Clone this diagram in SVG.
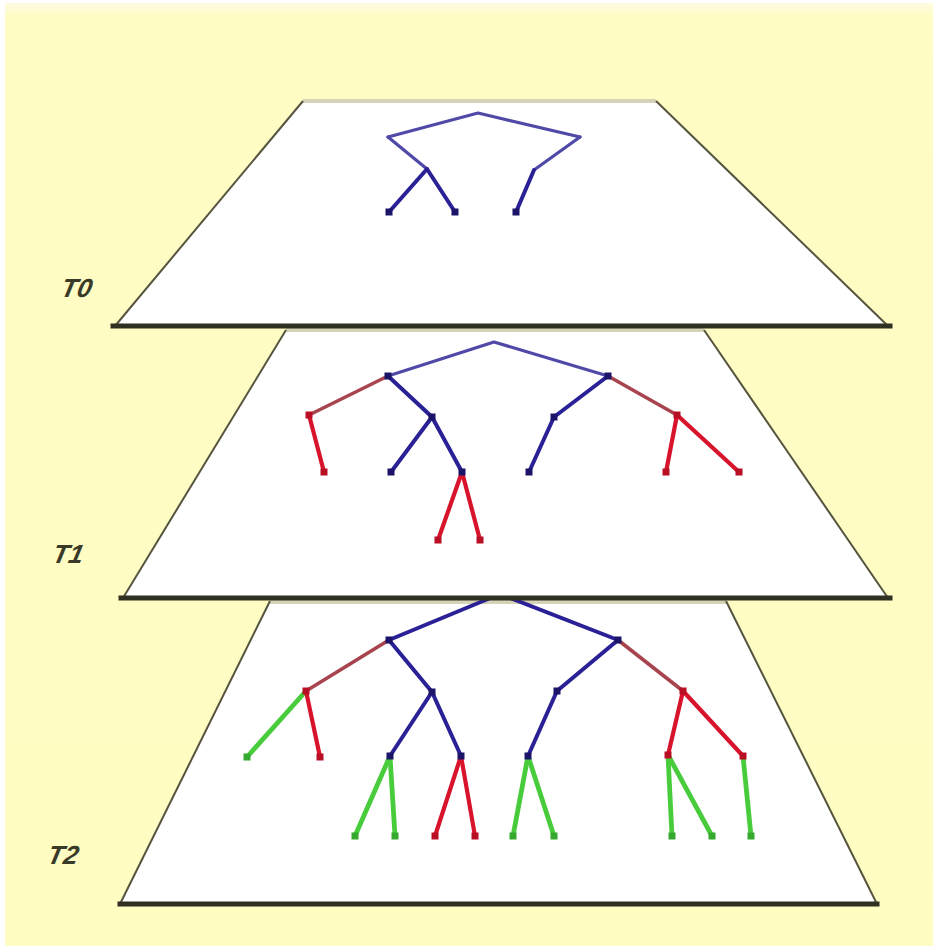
<svg xmlns="http://www.w3.org/2000/svg" xmlns:xlink="http://www.w3.org/1999/xlink" width="933" height="949" viewBox="0 0 933 949">
<defs>
<linearGradient id="bg" x1="0" y1="0" x2="0" y2="1">
<stop offset="0" stop-color="#fffbe2"/>
<stop offset="0.015" stop-color="#fffcc4"/>
<stop offset="1" stop-color="#fffdc2"/>
</linearGradient>
<rect id="dot" x="-3.5" y="-3.5" width="7" height="7"/>
<style>
.plane{fill:#ffffff;stroke:none}
.side{stroke:#55553f;stroke-width:2;fill:none}
.bottom{stroke:#2f2f22;stroke-width:5;stroke-linecap:square}
.top{stroke:#d6d2b6;stroke-width:4}
.e{fill:none;stroke-linecap:round;stroke-linejoin:round}
.bl{stroke:#2b2196;stroke-width:4}
.bt{stroke:#4f49a8;stroke-width:3.2}
.rd{stroke:#d8142c;stroke-width:4.2}
.br{stroke:#a8444e;stroke-width:3.6}
.gr{stroke:#48cc3c;stroke-width:4.8}
.nb{fill:#1c1468}
.nr{fill:#b80f24}
.ng{fill:#35a82e}
.lbl{font-family:"Liberation Sans",Arial,sans-serif;font-style:italic;font-weight:bold;font-size:26px;fill:#3a3a28}
</style>
</defs>
<rect x="0" y="0" width="933" height="949" fill="#ffffff"/>
<rect x="5" y="3" width="928" height="943" fill="url(#bg)"/>

<!-- Layer T2 (bottom) -->
<g id="plane-T2">
<polygon class="plane" points="270,601 726,601 877,904 120,904"/>
<line class="top" x1="270" y1="602" x2="726" y2="602"/>
<line class="side" x1="270" y1="601" x2="120" y2="904"/>
<line class="side" x1="726" y1="601" x2="877" y2="904"/>
<line class="bottom" x1="120" y1="904" x2="877" y2="904"/>
<text class="lbl" x="48" y="864" transform="skewX(-12) translate(182,0)">T2</text>
</g>
<g id="connectors-T2">
<polyline class="e bl" points="389,640 500,594 618,640"/>
<line class="e br" x1="389" y1="640" x2="306" y2="691"/>
<line class="e bl" x1="389" y1="640" x2="432" y2="692"/>
<line class="e bl" x1="618" y1="640" x2="557" y2="691"/>
<line class="e br" x1="618" y1="640" x2="683" y2="691"/>
<line class="e gr" x1="306" y1="691" x2="247" y2="757"/>
<line class="e rd" x1="306" y1="691" x2="320" y2="757"/>
<line class="e bl" x1="432" y1="692" x2="390" y2="756"/>
<line class="e bl" x1="432" y1="692" x2="461" y2="756"/>
<line class="e bl" x1="557" y1="691" x2="528" y2="756"/>
<line class="e rd" x1="683" y1="691" x2="668" y2="755"/>
<line class="e rd" x1="683" y1="691" x2="743" y2="756"/>
<line class="e gr" x1="390" y1="756" x2="355" y2="836"/>
<line class="e gr" x1="390" y1="756" x2="395" y2="836"/>
<line class="e rd" x1="461" y1="756" x2="435" y2="836"/>
<line class="e rd" x1="461" y1="756" x2="475" y2="836"/>
<line class="e gr" x1="528" y1="756" x2="513" y2="836"/>
<line class="e gr" x1="528" y1="756" x2="554" y2="836"/>
<line class="e gr" x1="668" y1="755" x2="672" y2="836"/>
<line class="e gr" x1="668" y1="755" x2="712" y2="836"/>
<line class="e gr" x1="743" y1="756" x2="751" y2="836"/>
</g>
<g id="nodes-T2">
<use xlink:href="#dot" class="nb" x="389" y="640"/>
<use xlink:href="#dot" class="nb" x="618" y="640"/>
<use xlink:href="#dot" class="nr" x="306" y="691"/>
<use xlink:href="#dot" class="nb" x="432" y="692"/>
<use xlink:href="#dot" class="nb" x="557" y="691"/>
<use xlink:href="#dot" class="nr" x="683" y="691"/>
<use xlink:href="#dot" class="ng" x="247" y="757"/>
<use xlink:href="#dot" class="nr" x="320" y="757"/>
<use xlink:href="#dot" class="nb" x="390" y="756"/>
<use xlink:href="#dot" class="nb" x="461" y="756"/>
<use xlink:href="#dot" class="nb" x="528" y="756"/>
<use xlink:href="#dot" class="nr" x="668" y="755"/>
<use xlink:href="#dot" class="nr" x="743" y="756"/>
<use xlink:href="#dot" class="ng" x="355" y="836"/>
<use xlink:href="#dot" class="ng" x="395" y="836"/>
<use xlink:href="#dot" class="nr" x="435" y="836"/>
<use xlink:href="#dot" class="nr" x="475" y="836"/>
<use xlink:href="#dot" class="ng" x="513" y="836"/>
<use xlink:href="#dot" class="ng" x="554" y="836"/>
<use xlink:href="#dot" class="ng" x="672" y="836"/>
<use xlink:href="#dot" class="ng" x="712" y="836"/>
<use xlink:href="#dot" class="ng" x="751" y="836"/>
</g>

<!-- Layer T1 (middle) -->
<g id="plane-T1">
<polygon class="plane" points="286,330 704,330 888,598 123,598"/>
<line class="top" x1="286" y1="330" x2="704" y2="330"/>
<line class="side" x1="286" y1="330" x2="123" y2="598"/>
<line class="side" x1="704" y1="330" x2="888" y2="598"/>
<line class="bottom" x1="121" y1="598" x2="890" y2="598"/>
<text class="lbl" x="53" y="563" transform="skewX(-12) translate(118,0)">T1</text>
</g>
<g id="connectors-T1">
<polyline class="e bt" points="388,376 494,342 608,376"/>
<line class="e br" x1="388" y1="376" x2="309" y2="415"/>
<line class="e bl" x1="388" y1="376" x2="432" y2="417"/>
<line class="e bl" x1="608" y1="376" x2="554" y2="417"/>
<line class="e br" x1="608" y1="376" x2="677" y2="415"/>
<line class="e rd" x1="309" y1="415" x2="324" y2="472"/>
<line class="e bl" x1="432" y1="417" x2="391" y2="472"/>
<line class="e bl" x1="432" y1="417" x2="462" y2="472"/>
<line class="e bl" x1="554" y1="417" x2="529" y2="472"/>
<line class="e rd" x1="677" y1="415" x2="666" y2="472"/>
<line class="e rd" x1="677" y1="415" x2="739" y2="472"/>
<line class="e rd" x1="462" y1="472" x2="438" y2="540"/>
<line class="e rd" x1="462" y1="472" x2="480" y2="540"/>
</g>
<g id="nodes-T1">
<use xlink:href="#dot" class="nb" x="388" y="376"/>
<use xlink:href="#dot" class="nb" x="608" y="376"/>
<use xlink:href="#dot" class="nr" x="309" y="415"/>
<use xlink:href="#dot" class="nb" x="432" y="417"/>
<use xlink:href="#dot" class="nb" x="554" y="417"/>
<use xlink:href="#dot" class="nr" x="677" y="415"/>
<use xlink:href="#dot" class="nr" x="324" y="472"/>
<use xlink:href="#dot" class="nb" x="391" y="472"/>
<use xlink:href="#dot" class="nb" x="462" y="472"/>
<use xlink:href="#dot" class="nb" x="529" y="472"/>
<use xlink:href="#dot" class="nr" x="666" y="472"/>
<use xlink:href="#dot" class="nr" x="739" y="472"/>
<use xlink:href="#dot" class="nr" x="438" y="540"/>
<use xlink:href="#dot" class="nr" x="480" y="540"/>
</g>

<!-- Layer T0 (top) -->
<g id="plane-T0">
<polygon class="plane" points="303,101 656,101 888,326 115,326"/>
<line class="top" x1="303" y1="101" x2="656" y2="101"/>
<line class="side" x1="303" y1="101" x2="115" y2="326"/>
<line class="side" x1="656" y1="101" x2="888" y2="326"/>
<line class="bottom" x1="113" y1="326" x2="890" y2="326"/>
<text class="lbl" x="60" y="297" transform="skewX(-12) translate(63,0)">T0</text>
</g>
<g id="connectors-T0">
<polyline class="e bt" points="388,137 478,113 580,137"/>
<line class="e bt" x1="388" y1="137" x2="427" y2="169"/>
<line class="e bl" x1="427" y1="169" x2="389" y2="212"/>
<line class="e bl" x1="427" y1="169" x2="455" y2="212"/>
<line class="e bt" x1="580" y1="137" x2="534" y2="170"/>
<line class="e bl" x1="534" y1="170" x2="516" y2="212"/>
</g>
<g id="nodes-T0">
<use xlink:href="#dot" class="nb" x="389" y="212"/>
<use xlink:href="#dot" class="nb" x="455" y="212"/>
<use xlink:href="#dot" class="nb" x="516" y="212"/>
</g>
</svg>
